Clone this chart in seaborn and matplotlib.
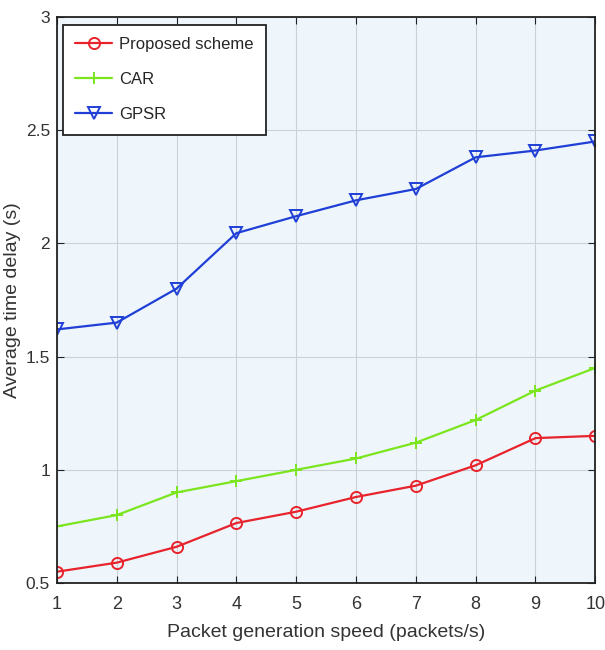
import matplotlib
matplotlib.use('Agg')
import matplotlib.pyplot as plt
import seaborn as sns

speed = [1, 2, 3, 4, 5, 6, 7, 8, 9, 10]
proposed = [0.55, 0.59, 0.66, 0.765, 0.815, 0.88, 0.93, 1.02, 1.14, 1.15]
car = [0.75, 0.80, 0.90, 0.95, 1.00, 1.05, 1.12, 1.22, 1.35, 1.45]
gpsr = [1.62, 1.65, 1.80, 2.045, 2.12, 2.19, 2.24, 2.38, 2.41, 2.45]
names = ['Proposed scheme', 'CAR', 'GPSR']
colors = ['#e8232b', '#7be51e', '#1f3fd6']
marks = ['o', '+', 'v']

sns.set_style('ticks')
plt.rcParams['font.family'] = ['Liberation Sans', 'DejaVu Sans']

fig = plt.figure(figsize=(6.05, 6.5), dpi=100)
ax = fig.add_axes([0.094, 0.103, 0.89, 0.871])
ax.set_facecolor('#eef6fc')

for vals, name, c, m in zip([proposed, car, gpsr], names, colors, marks):
    sns.lineplot(x=speed, y=vals, label=name, color=c, marker=m, ax=ax,
                 markersize=8, markerfacecolor='none', markeredgecolor=c,
                 markeredgewidth=1.4, linewidth=1.6)

ax.set_xlim(1, 10)
ax.set_ylim(0.5, 3)
ax.set_xticks(speed)
ax.set_yticks([0.5, 1, 1.5, 2, 2.5, 3])
ax.set_yticklabels(['0.5', '1', '1.5', '2', '2.5', '3'])
ax.grid(True, color='#cdd1d5', linewidth=0.8)
ax.tick_params(direction='in', length=5, labelsize=13, color='#222222',
               top=True, right=True, labelcolor='#333333')
ax.tick_params(axis='x', pad=9)
ax.tick_params(axis='y', pad=5, labelsize=12.5)
for s in ax.spines.values():
    s.set_color('#222222')
    s.set_linewidth(1.3)
ax.set_xlabel('Packet generation speed (packets/s)', fontsize=14, color='#333333',
              labelpad=8)
ax.set_ylabel('Average time delay (s)', fontsize=14, color='#333333')
ax.yaxis.set_label_coords(-0.066, 0.5)

leg = ax.legend(loc='upper left', fontsize=12, frameon=True, fancybox=False,
                edgecolor='#222222', handlelength=2.2, borderpad=0.75,
                labelspacing=1.2, handletextpad=0.4, borderaxespad=0,
                bbox_to_anchor=(0.011, 0.986))
leg.get_frame().set_linewidth(1.3)
leg.get_frame().set_facecolor('white')
leg.get_frame().set_alpha(1)

fig.savefig('out.png', dpi=100)
